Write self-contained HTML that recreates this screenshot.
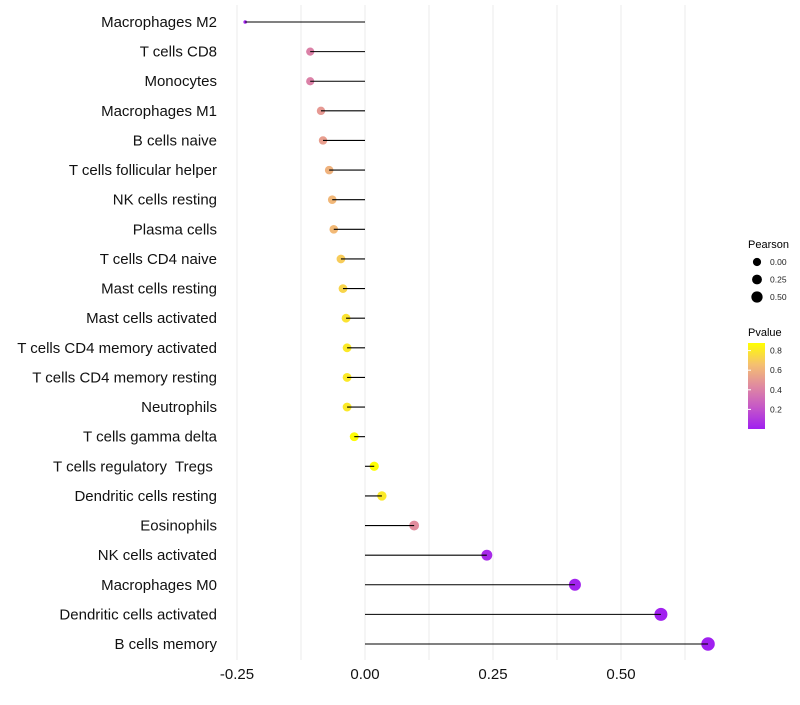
<!DOCTYPE html>
<html><head><meta charset="utf-8"><style>
body{margin:0;background:#fff;font-family:"Liberation Sans",sans-serif}
text{white-space:pre}
</style></head><body>
<svg id="chart" width="800" height="700" xmlns="http://www.w3.org/2000/svg" font-family="Liberation Sans, sans-serif">
<g id="grid"></g>
<g id="marks"></g>
<g id="ylabels"></g>
<g id="xlabels"></g>
<g id="sizeleg">
<text x="748" y="248" font-size="11">Pearson</text>
</g>
<g id="colleg">
<defs><linearGradient id="pg" x1="0" y1="1" x2="0" y2="0">
<stop offset="0" stop-color="#a020f0"/><stop offset="0.25" stop-color="#c557c8"/><stop offset="0.5" stop-color="#e08aa0"/><stop offset="0.75" stop-color="#f5c070"/><stop offset="1" stop-color="#ffff00"/></linearGradient></defs>
<text x="748" y="336" font-size="11">Pvalue</text>
<rect x="748" y="343" width="17" height="86" fill="url(#pg)"/>
</g>
</svg>
<script>
const categories=["Macrophages M2","T cells CD8","Monocytes","Macrophages M1","B cells naive","T cells follicular helper","NK cells resting","Plasma cells","T cells CD4 naive","Mast cells resting","Mast cells activated","T cells CD4 memory activated","T cells CD4 memory resting","Neutrophils","T cells gamma delta","T cells regulatory  Tregs ","Dendritic cells resting","Eosinophils","NK cells activated","Macrophages M0","Dendritic cells activated","B cells memory"];
const pearson=[-0.234,-0.107,-0.107,-0.086,-0.082,-0.070,-0.064,-0.061,-0.047,-0.043,-0.037,-0.035,-0.035,-0.035,-0.021,0.018,0.033,0.096,0.238,0.41,0.578,0.67];
const pvalue=[0.01,0.4,0.4,0.5,0.52,0.6,0.62,0.63,0.7,0.73,0.78,0.8,0.8,0.8,0.87,0.88,0.8,0.45,0.04,0.01,0.005,0.001];
const xTicks=[-0.25,0,0.25,0.5];
const xTickLabels=["-0.25","0.00","0.25","0.50"];
const sizeLegendVals=[0,0.25,0.5];
const sizeLegendLabels=["0.00","0.25","0.50"];
const pLegendVals=[0.2,0.4,0.6,0.8];
const NS="http://www.w3.org/2000/svg";
const X=v=>365+v*512;
const Y=i=>22+i*(622/21);
const R=v=>v<-0.107?Math.max(1.4,1.8+(v+0.234)/0.127*2.3):Math.sqrt(16.8+37*(v+0.107));
const PY=p=>429-p*98;
const stops=[[0,[160,32,240]],[0.25,[197,87,200]],[0.5,[224,138,160]],[0.75,[245,192,112]],[1,[255,255,0]]];
function col(p){let t=Math.min(1,Math.max(0,p/0.877));for(let k=1;k<stops.length;k++){if(t<=stops[k][0]){const a=stops[k-1],b=stops[k],f=(t-a[0])/(b[0]-a[0]);return "rgb("+a[1].map((c,j)=>Math.round(c+(b[1][j]-c)*f)).join(",")+")";}}return "rgb(255,255,0)";}
function mk(tag,attrs,parent){const e=document.createElementNS(NS,tag);for(const k in attrs)e.setAttribute(k,attrs[k]);parent.appendChild(e);return e;}
const grid=document.getElementById('grid');
for(let v=-0.25;v<=0.66;v+=0.125){const l=mk('line',{x1:X(v),x2:X(v),y1:5,y2:660,stroke:'#ebebeb','stroke-width':1},grid);

}
const marks=document.getElementById('marks');
categories.forEach((c,i)=>{
const d=mk('circle',{cx:X(pearson[i]),cy:Y(i),r:R(pearson[i]),fill:col(pvalue[i])},marks);


const l=mk('line',{x1:X(0),x2:X(pearson[i]),y1:Y(i),y2:Y(i),stroke:'#000','stroke-width':1.1},marks);


const t=mk('text',{x:217,y:Y(i)+5,'text-anchor':'end','font-size':15,fill:'#111'},document.getElementById('ylabels'));
t.textContent=c;


});
xTicks.forEach((v,i)=>{const t=mk('text',{x:X(v),y:679,'text-anchor':'middle','font-size':15,fill:'#111'},document.getElementById('xlabels'));
t.textContent=xTickLabels[i];

});
const sl=document.getElementById('sizeleg');
sizeLegendVals.forEach((v,i)=>{const y=262+i*17.5;
const c=mk('circle',{cx:757,cy:y,r:R(v)*0.9,fill:'#000'},sl);


const t=mk('text',{x:770,y:y+3,'font-size':8.5,fill:'#222'},sl);t.textContent=sizeLegendLabels[i];

});
const cl=document.getElementById('colleg');
pLegendVals.forEach(p=>{const y=PY(p);
const k=mk('line',{x1:748,x2:751,y1:y,y2:y,stroke:'#fff'},cl);


const t=mk('text',{x:770,y:y+3,'font-size':8.5,fill:'#222'},cl);t.textContent=p.toFixed(1);

});
</script>
</body></html>
